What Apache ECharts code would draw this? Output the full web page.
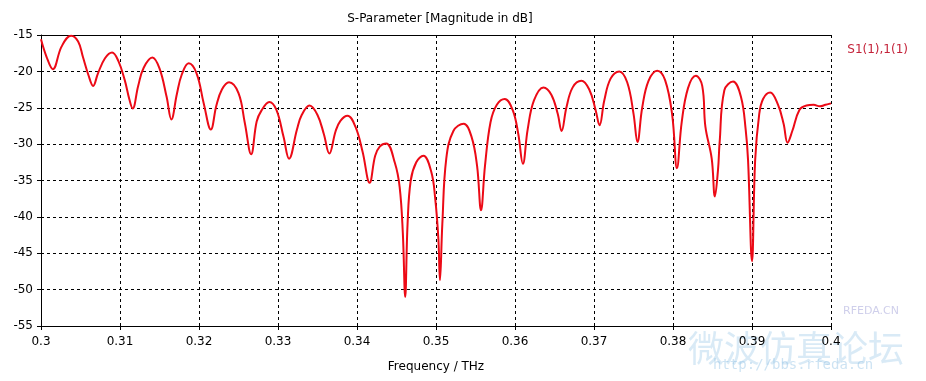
<!DOCTYPE html>
<html>
<head>
<meta charset="utf-8">
<script src="https://cdn.jsdelivr.net/npm/echarts@6/dist/echarts.min.js"></script>
<style>
html,body{margin:0;padding:0;background:#fff;}
#chart{width:926px;height:381px;}
</style>
</head>
<body>
<div id="chart"></div>
<script>
// Frequency (THz) samples
const freq = [
0.3000,0.3007,0.3015,0.3026,0.3038,0.3047,0.3053,0.3060,0.3066,0.3072,
0.3081,0.3090,0.3098,0.3106,0.3112,0.3116,0.3123,0.3130,0.3141,0.3150,
0.3159,0.3165,0.3172,0.3178,0.3187,0.3197,0.3206,0.3215,0.3222,0.3229,
0.3238,0.3250,0.3258,0.3266,0.3273,0.3279,0.3289,0.3298,0.3307,0.3314,
0.3324,0.3330,0.3340,0.3350,0.3358,0.3365,0.3373,0.3379,0.3388,0.3398,
0.3407,0.3416,0.3423,0.3429,0.3437,0.3448,0.3454,0.3458,0.3461,0.3464,
0.3468,0.3475,0.3484,0.3494,0.3499,0.3503,0.3505,0.3508,0.3513,0.3522,
0.3535,0.3545,0.3552,0.3557,0.3562,0.3569,0.3577,0.3587,0.3597,0.3604,
0.3610,0.3616,0.3624,0.3636,0.3646,0.3654,0.3659,0.3665,0.3673,0.3684,
0.3694,0.3702,0.3707,0.3713,0.3721,0.3732,0.3742,0.3750,0.3755,0.3761,
0.3769,0.3780,0.3790,0.3799,0.3805,0.3811,0.3819,0.3829,0.3837,0.3841,
0.3849,0.3853,0.3857,0.3859,0.3865,0.3876,0.3886,0.3892,0.3895,0.3900,
0.3904,0.3909,0.3914,0.3923,0.3933,0.3940,0.3945,0.3951,0.3960,0.3969,
0.3978,0.3986,0.3993,0.4000
];
// S1(1),1(1) magnitude in dB
const s11 = [
-15.6,-18.0,-19.7,-16.6,-15.1,-15.9,-18.0,-20.5,-22.0,-20.3,
-18.2,-17.4,-18.6,-21.2,-23.9,-25.1,-22.0,-19.5,-18.1,-19.6,
-23.5,-26.6,-23.1,-20.5,-18.9,-20.3,-24.4,-28.0,-24.7,-22.5,
-21.5,-23.0,-27.1,-31.4,-26.9,-25.4,-24.2,-25.3,-29.0,-32.0,
-28.0,-26.0,-24.7,-26.0,-28.6,-31.3,-28.2,-26.8,-26.1,-27.6,
-31.0,-35.3,-31.6,-30.3,-29.9,-32.6,-35.9,-42.2,-51.0,-41.0,
-35.0,-32.5,-31.6,-33.8,-37.5,-43.0,-48.7,-41.0,-32.0,-28.2,
-27.2,-29.0,-33.0,-39.1,-33.0,-27.0,-24.6,-23.8,-25.3,-28.5,
-32.7,-28.0,-24.0,-22.2,-23.2,-25.8,-28.2,-25.0,-22.2,-21.3,
-22.5,-25.3,-27.4,-24.0,-21.0,-20.0,-21.5,-25.8,-29.7,-25.0,
-21.3,-19.9,-21.2,-26.0,-33.3,-27.0,-22.3,-20.6,-22.0,-27.6,
-32.0,-37.2,-33.5,-29.8,-22.6,-21.4,-23.5,-28.0,-32.2,-46.1,
-32.2,-26.0,-23.8,-22.9,-24.6,-27.2,-29.8,-28.2,-25.3,-24.7,
-24.6,-24.8,-24.6,-24.4
];
const xTicks = [0.3,0.31,0.32,0.33,0.34,0.35,0.36,0.37,0.38,0.39,0.4];
const yTicks = [-55,-50,-45,-40,-35,-30,-25,-20,-15];
const titleText = 'S-Parameter [Magnitude in dB]';
const xName = 'Frequency / THz';
const seriesName = 'S1(1),1(1)';

const points = freq.map((f, i) => [f, s11[i]]);
const font = 'Verdana, "DejaVu Sans", sans-serif';

const chart = echarts.init(document.getElementById('chart'), null, {renderer: 'canvas'});
chart.setOption({
  animation: false,
  backgroundColor: '#ffffff',
  title: {
    text: titleText,
    left: 435, top: 8, textAlign: 'center',
    textStyle: {fontFamily: font, fontSize: 12, fontWeight: 'normal', color: '#000'}
  },
  legend: {
    data: [seriesName],
    right: 13, top: 38,
    icon: 'none', itemWidth: 0, itemGap: 0,
    textStyle: {fontFamily: font, fontSize: 12, color: '#c4233a'}
  },
  grid: {left: 41, right: 95, top: 35, bottom: 55},
  xAxis: [{
    type: 'value',
    min: xTicks[0], max: xTicks[xTicks.length - 1], interval: 0.01,
    name: xName, nameLocation: 'middle', nameGap: 35,
    nameTextStyle: {fontFamily: font, fontSize: 12, color: '#000'},
    axisLine: {show: true, lineStyle: {color: '#000', width: 1}},
    axisTick: {show: true, inside: false, length: 4, lineStyle: {color: '#000'}},
    axisLabel: {
      fontFamily: font, fontSize: 12, color: '#000', margin: 10,
      formatter: v => String(+v.toFixed(2))
    },
    splitLine: {show: true, lineStyle: {color: '#000', type: [3, 3], width: 1}}
  }, {
    type: 'value', position: 'top',
    min: xTicks[0], max: xTicks[xTicks.length - 1],
    axisLine: {show: true, lineStyle: {color: '#000', width: 1}},
    axisTick: {show: false}, axisLabel: {show: false}, splitLine: {show: false}
  }],
  yAxis: {
    type: 'value',
    min: yTicks[0], max: yTicks[yTicks.length - 1], interval: 5,
    axisLine: {show: true, lineStyle: {color: '#000', width: 1}},
    axisTick: {show: true, inside: false, length: 4, lineStyle: {color: '#000'}},
    axisLabel: {fontFamily: font, fontSize: 12, color: '#000', margin: 8},
    splitLine: {show: true, lineStyle: {color: '#000', type: [3, 3], width: 1}}
  },
  graphic: [
    {type: 'text', left: 688, top: 330, z: -1, silent: true,
     style: {text: '微波仿真论坛', font: '36px "Noto Sans CJK SC"', fill: 'rgba(130,185,225,0.3)'}},
    {type: 'text', left: 713, top: 358, z: -1, silent: true,
     style: {text: 'http://bbs.rfeda.cn', font: '14px "DejaVu Sans Mono"', fill: 'rgba(130,185,225,0.4)'}},
    {type: 'text', left: 843, top: 306, z: -1, silent: true,
     style: {text: 'RFEDA.CN', font: '11px Verdana, "DejaVu Sans"', fill: 'rgba(160,160,215,0.5)'}}
  ],
  series: [{
    name: seriesName,
    type: 'line',
    data: points,
    showSymbol: false,
    smooth: 0.4,
    lineStyle: {color: '#ec0a16', width: 2},
    itemStyle: {color: '#c4233a'}
  }]
});
</script>
</body>
</html>
